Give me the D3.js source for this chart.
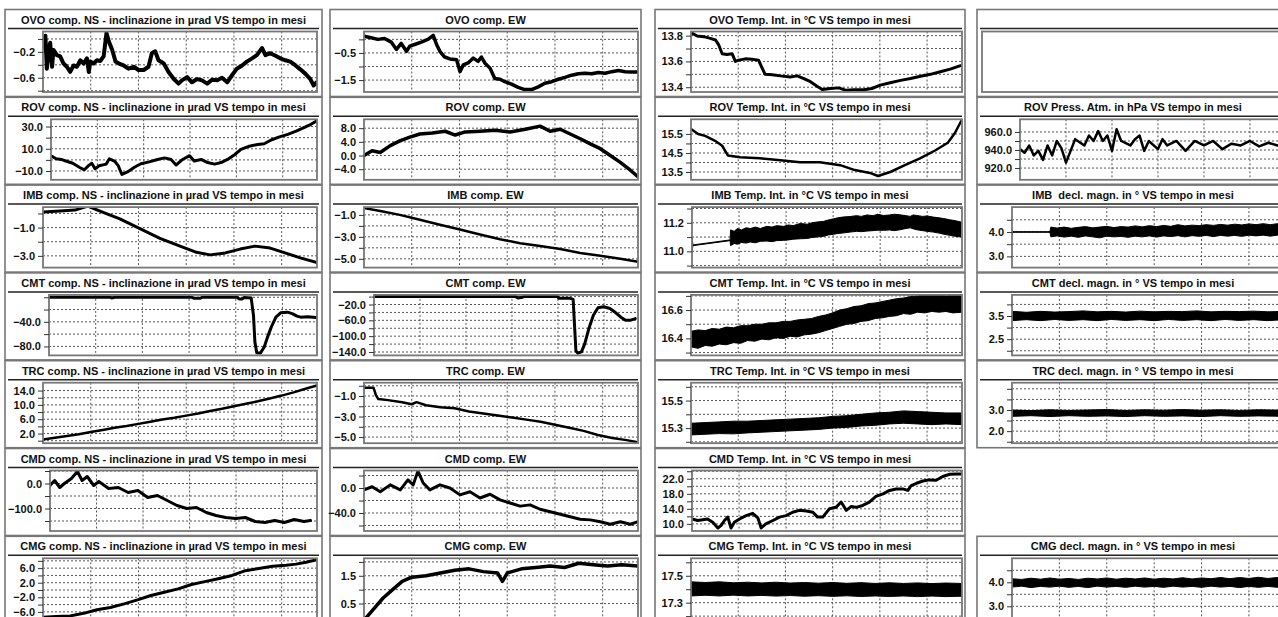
<!DOCTYPE html>
<html><head><meta charset="utf-8">
<script src="https://cdn.jsdelivr.net/npm/d3@7/dist/d3.min.js"></script>
<style>body{margin:0;background:#fff}svg{display:block}</style>
</head><body>
<svg id="c" width="1278" height="617"></svg>
<script>
// ---------- DATA (time in months, value) ----------
const T_END = 5.74;
const monthGrid = [1, 2, 3, 4, 5];

const ovoNS = [[0.01,-0.12],[0.05,0.05],[0.08,-0.46],[0.12,-0.17],[0.15,-0.06],[0.19,-0.43],[0.22,-0.17],[0.29,-0.25],[0.36,-0.27],[0.43,-0.38],[0.5,-0.43],[0.57,-0.51],[0.64,-0.41],[0.71,-0.43],[0.78,-0.33],[0.85,-0.38],[0.92,-0.3],[0.96,-0.51],[0.99,-0.35],[1.06,-0.38],[1.13,-0.33],[1.2,-0.34],[1.27,-0.27],[1.33,0.09],[1.38,-0.04],[1.45,-0.17],[1.52,-0.35],[1.59,-0.38],[1.69,-0.41],[1.79,-0.46],[1.9,-0.43],[2.0,-0.48],[2.11,-0.48],[2.21,-0.43],[2.28,-0.22],[2.35,-0.19],[2.42,-0.33],[2.53,-0.38],[2.63,-0.51],[2.74,-0.62],[2.84,-0.69],[2.91,-0.64],[3.02,-0.59],[3.12,-0.67],[3.23,-0.62],[3.33,-0.64],[3.44,-0.69],[3.54,-0.63],[3.65,-0.64],[3.75,-0.6],[3.86,-0.67],[3.96,-0.56],[4.06,-0.46],[4.17,-0.41],[4.27,-0.35],[4.38,-0.3],[4.48,-0.25],[4.59,-0.14],[4.66,-0.25],[4.76,-0.22],[4.87,-0.26],[4.97,-0.3],[5.08,-0.33],[5.18,-0.35],[5.29,-0.41],[5.39,-0.47],[5.5,-0.54],[5.6,-0.62],[5.67,-0.72],[5.73,-0.67]];
const ovoEW = [[0,0.12],[0.15,0.06],[0.29,0],[0.43,0.03],[0.57,-0.1],[0.68,-0.37],[0.78,-0.15],[0.89,-0.44],[0.96,-0.25],[1.06,-0.19],[1.2,-0.1],[1.34,0],[1.45,0.15],[1.52,-0.19],[1.59,-0.44],[1.69,-0.65],[1.8,-0.72],[1.94,-0.75],[2.01,-1.19],[2.08,-0.94],[2.18,-0.87],[2.29,-0.69],[2.39,-0.81],[2.46,-0.65],[2.53,-0.87],[2.64,-1.06],[2.74,-1.44],[2.85,-1.47],[2.95,-1.56],[3.09,-1.65],[3.23,-1.77],[3.37,-1.85],[3.51,-1.85],[3.65,-1.75],[3.79,-1.62],[3.93,-1.56],[4.07,-1.47],[4.21,-1.4],[4.35,-1.32],[4.49,-1.27],[4.63,-1.25],[4.77,-1.27],[4.91,-1.22],[5.05,-1.25],[5.19,-1.19],[5.33,-1.15],[5.47,-1.19],[5.61,-1.2],[5.72,-1.2]];
const ovoTemp = [[0.02,13.819],[0.13,13.797],[0.27,13.792],[0.41,13.779],[0.52,13.766],[0.59,13.726],[0.66,13.66],[0.76,13.654],[0.87,13.66],[0.94,13.6],[1.01,13.61],[1.15,13.62],[1.29,13.617],[1.43,13.61],[1.5,13.554],[1.57,13.5],[1.72,13.496],[1.89,13.488],[2.1,13.48],[2.25,13.488],[2.39,13.467],[2.53,13.443],[2.67,13.408],[2.78,13.382],[2.95,13.39],[3.13,13.395],[3.27,13.377],[3.45,13.38],[3.66,13.38],[3.83,13.39],[4.01,13.416],[4.22,13.435],[4.44,13.453],[4.65,13.467],[4.86,13.485],[5.07,13.5],[5.28,13.52],[5.49,13.54],[5.71,13.567]];

const rovNS = [[0,3.8],[0.11,1.0],[0.22,0.4],[0.32,-1.0],[0.47,-3.0],[0.61,-6.6],[0.72,-8.9],[0.81,-5.2],[0.88,-3.0],[0.95,-8.0],[1.04,-5.2],[1.19,-3.8],[1.26,1.0],[1.37,-1.0],[1.45,-5.2],[1.53,-13.1],[1.65,-10.8],[1.8,-6.6],[1.94,-3.5],[2.12,-1.8],[2.3,0.4],[2.45,1.8],[2.59,0.4],[2.7,-4.6],[2.84,0.4],[2.99,3.8],[3.09,-1.0],[3.24,0.4],[3.38,-2.4],[3.53,-3.8],[3.67,-2.4],[3.81,0.4],[3.96,4.6],[4.1,9.4],[4.28,12.3],[4.46,13.9],[4.6,14.5],[4.75,17.9],[4.93,20.7],[5.11,23.0],[5.29,25.8],[5.47,29.2],[5.61,32.0],[5.72,34.8]];
const rovEW = [[0,0],[0.17,1.4],[0.34,0.9],[0.55,2.9],[0.75,4.3],[0.96,5.4],[1.17,6.3],[1.43,6.6],[1.7,7.1],[1.91,6.0],[2.12,6.9],[2.43,7.1],[2.75,7.4],[3.06,6.9],[3.38,7.7],[3.69,8.6],[3.9,7.1],[4.11,7.7],[4.32,6.3],[4.53,4.9],[4.74,3.4],[4.95,2.0],[5.16,0],[5.37,-2.0],[5.58,-4.3],[5.72,-6.0]];
const rovTemp = [[0,15.76],[0.15,15.5],[0.3,15.4],[0.51,15.14],[0.66,14.88],[0.78,14.37],[1.04,14.27],[1.46,14.22],[1.89,14.12],[2.31,14.01],[2.73,14.01],[3.16,13.86],[3.47,13.6],[3.79,13.45],[3.96,13.29],[4.22,13.5],[4.53,13.86],[4.85,14.22],[5.17,14.63],[5.44,15.04],[5.59,15.55],[5.72,16.17]];
const rovPress = [[0,941],[0.1,937],[0.2,945],[0.3,934],[0.4,939],[0.5,929],[0.6,945],[0.7,934],[0.8,950],[0.9,942],[1.0,926],[1.1,939],[1.2,952],[1.4,945],[1.5,956],[1.6,950],[1.7,961],[1.8,950],[1.9,956],[2.0,939],[2.1,963],[2.2,950],[2.4,945],[2.5,952],[2.6,956],[2.7,939],[2.8,950],[3.0,941],[3.1,952],[3.2,945],[3.4,950],[3.6,939],[3.8,950],[4.0,945],[4.2,950],[4.4,941],[4.6,947],[4.8,945],[5.0,950],[5.2,944],[5.4,948],[5.6,945]];

const imbNS = [[0,0.1],[0.36,0.17],[0.67,0.24],[0.94,0.52],[1.09,0.31],[1.3,0.03],[1.61,-0.38],[2.03,-1.07],[2.45,-1.76],[2.87,-2.31],[3.19,-2.72],[3.5,-2.93],[3.82,-2.79],[4.13,-2.52],[4.44,-2.31],[4.76,-2.45],[5.07,-2.79],[5.39,-3.14],[5.74,-3.48]];
const imbEW = [[0,-0.38],[0.34,-0.64],[0.75,-1.0],[1.17,-1.44],[1.59,-1.89],[2.01,-2.33],[2.43,-2.78],[2.85,-3.22],[3.27,-3.58],[3.69,-3.84],[4.11,-4.11],[4.53,-4.47],[4.95,-4.73],[5.37,-5.0],[5.74,-5.27]];
const imbTemp = [[0,11.0,11.1],[0.02,11.04,11.045],[0.81,11.075,11.08],[0.82,11.04,11.15],[0.9,11.055,11.14],[0.96,11.05,11.16],[1.05,11.062,11.15],[1.15,11.058,11.165],[1.24,11.065,11.16],[1.35,11.06,11.17],[1.45,11.07,11.16],[1.59,11.072,11.175],[1.7,11.068,11.17],[1.8,11.075,11.18],[1.95,11.077,11.175],[2.05,11.08,11.185],[2.15,11.085,11.18],[2.3,11.088,11.195],[2.45,11.09,11.19],[2.55,11.097,11.2],[2.65,11.1,11.205],[2.8,11.105,11.21],[2.9,11.115,11.22],[3.01,11.119,11.228],[3.1,11.125,11.235],[3.2,11.128,11.24],[3.36,11.135,11.244],[3.5,11.14,11.25],[3.6,11.138,11.245],[3.72,11.142,11.255],[3.85,11.145,11.25],[3.95,11.148,11.26],[4.07,11.147,11.251],[4.2,11.15,11.255],[4.3,11.145,11.26],[4.42,11.151,11.256],[4.55,11.16,11.25],[4.64,11.165,11.245],[4.7,11.158,11.255],[4.78,11.151,11.251],[4.9,11.145,11.245],[5.0,11.14,11.248],[5.13,11.135,11.24],[5.25,11.128,11.235],[5.35,11.12,11.23],[5.48,11.112,11.221],[5.6,11.105,11.215],[5.72,11.1,11.205]];
const imbDecl = [[0,3.88,4.1],[0.02,3.99,4.01],[0.8,3.99,4.01],[0.82,3.8,4.2],[0.95,3.84,4.16],[1.1,3.79,4.2],[1.25,3.83,4.15],[1.4,3.78,4.19],[1.55,3.84,4.22],[1.7,3.8,4.17],[1.85,3.76,4.2],[2.0,3.83,4.23],[2.15,3.8,4.18],[2.3,3.82,4.22],[2.45,3.78,4.2],[2.6,3.83,4.25],[2.75,3.8,4.21],[2.9,3.84,4.26],[3.05,3.79,4.22],[3.2,3.84,4.27],[3.35,3.81,4.23],[3.5,3.85,4.3],[3.65,3.8,4.25],[3.8,3.85,4.28],[3.95,3.82,4.26],[4.1,3.86,4.3],[4.25,3.81,4.27],[4.4,3.86,4.31],[4.55,3.83,4.28],[4.7,3.86,4.32],[4.85,3.82,4.29],[5.0,3.87,4.33],[5.15,3.84,4.3],[5.3,3.87,4.34],[5.45,3.83,4.3],[5.6,3.87,4.34],[5.74,3.85,4.32]];

const cmtNS = [[0,0],[1.31,0],[1.34,-1.1],[1.41,0],[3.06,0],[3.1,-1.6],[3.24,-1.6],[3.28,0],[4.03,0],[4.07,-2.7],[4.14,-2.7],[4.18,-0.5],[4.33,-1.1],[4.38,-29.7],[4.41,-73],[4.45,-90.3],[4.53,-90.8],[4.61,-81],[4.68,-64.9],[4.76,-48.6],[4.86,-32.4],[4.96,-25.4],[5.11,-24.3],[5.22,-27],[5.31,-30.8],[5.39,-32.4],[5.54,-31.9],[5.72,-33]];
const cmtEW = [[0,0],[3.08,0],[3.13,-3.4],[3.23,-1.7],[3.26,0],[3.99,0],[4.02,-4.3],[4.27,-4.3],[4.33,-6.9],[4.36,-72.8],[4.39,-137],[4.43,-143],[4.51,-139.8],[4.58,-120],[4.67,-81.4],[4.77,-47.1],[4.87,-28.3],[5.0,-25.7],[5.13,-30],[5.25,-40.3],[5.36,-51.4],[5.47,-60],[5.57,-60],[5.68,-55.7]];
const cmtTemp = [[0,16.34,16.45],[0.15,16.33,16.46],[0.3,16.35,16.455],[0.45,16.345,16.47],[0.6,16.36,16.465],[0.75,16.355,16.48],[0.9,16.37,16.475],[1.05,16.365,16.49],[1.2,16.385,16.49],[1.35,16.38,16.5],[1.5,16.395,16.5],[1.65,16.39,16.51],[1.8,16.405,16.51],[1.95,16.4,16.52],[2.1,16.415,16.52],[2.25,16.41,16.53],[2.4,16.425,16.535],[2.55,16.43,16.54],[2.7,16.44,16.555],[2.85,16.455,16.565],[3.0,16.47,16.58],[3.15,16.485,16.6],[3.3,16.5,16.61],[3.45,16.505,16.625],[3.6,16.52,16.63],[3.75,16.525,16.645],[3.9,16.54,16.65],[4.05,16.545,16.66],[4.2,16.555,16.67],[4.35,16.56,16.68],[4.5,16.575,16.685],[4.65,16.57,16.695],[4.8,16.585,16.7],[4.95,16.58,16.71],[5.1,16.59,16.705],[5.25,16.585,16.71],[5.4,16.59,16.7],[5.55,16.58,16.705],[5.74,16.585,16.7]];
const cmtDecl = [[0,3.3,3.7],[0.3,3.34,3.66],[0.6,3.3,3.7],[0.9,3.35,3.67],[1.2,3.31,3.69],[1.5,3.34,3.72],[1.8,3.3,3.68],[2.1,3.35,3.7],[2.4,3.31,3.67],[2.7,3.34,3.71],[3.0,3.3,3.68],[3.3,3.35,3.7],[3.6,3.31,3.69],[3.9,3.34,3.72],[4.2,3.3,3.68],[4.5,3.35,3.7],[4.8,3.31,3.69],[5.1,3.34,3.71],[5.4,3.3,3.68],[5.74,3.34,3.7]];

const trcNS = [[0,0.3],[0.25,0.8],[0.5,1.3],[0.75,1.8],[1,2.4],[1.25,3.0],[1.5,3.6],[1.75,4.1],[2,4.7],[2.25,5.3],[2.5,5.9],[2.75,6.4],[3,7.0],[3.25,7.6],[3.5,8.3],[3.75,8.9],[4,9.6],[4.25,10.3],[4.5,11.0],[4.75,11.8],[5,12.6],[5.25,13.5],[5.5,14.5],[5.74,15.4]];
const trcEW = [[0,-0.2],[0.2,-0.2],[0.25,-0.9],[0.3,-1.3],[0.5,-1.4],[0.8,-1.6],[1.0,-1.8],[1.1,-1.6],[1.3,-1.9],[1.6,-2.1],[1.9,-2.2],[2.2,-2.5],[2.5,-2.7],[2.8,-2.9],[3.1,-3.1],[3.4,-3.3],[3.7,-3.5],[4.0,-3.8],[4.3,-4.1],[4.6,-4.4],[4.9,-4.8],[5.2,-5.1],[5.5,-5.3],[5.74,-5.5]];
const trcTemp = [[0,15.25,15.335],[0.3,15.255,15.34],[0.6,15.26,15.345],[0.9,15.258,15.35],[1.2,15.265,15.35],[1.5,15.27,15.355],[1.8,15.275,15.36],[2.1,15.28,15.365],[2.4,15.285,15.37],[2.7,15.29,15.375],[3.0,15.3,15.385],[3.3,15.305,15.39],[3.6,15.315,15.4],[3.9,15.32,15.41],[4.2,15.33,15.415],[4.5,15.335,15.425],[4.8,15.33,15.42],[5.1,15.325,15.415],[5.4,15.33,15.41],[5.74,15.325,15.41]];
const trcDecl = [[0,2.7,3.0],[0.4,2.73,2.97],[0.8,2.69,3.01],[1.2,2.73,2.98],[1.6,2.7,3.0],[2.0,2.72,3.02],[2.4,2.69,2.98],[2.8,2.73,3.01],[3.2,2.7,2.99],[3.6,2.72,3.02],[4.0,2.69,2.99],[4.4,2.73,3.01],[4.8,2.7,2.98],[5.2,2.72,3.01],[5.74,2.7,2.99]];

const cmdNS = [[0,-8],[0.1,12],[0.21,-16],[0.31,0],[0.46,20],[0.59,48],[0.69,12],[0.8,28],[0.94,-8],[1.05,8],[1.26,-20],[1.47,-16],[1.68,-36],[1.89,-28],[2.1,-56],[2.31,-48],[2.52,-68],[2.73,-88],[2.94,-100],[3.15,-96],[3.36,-116],[3.57,-128],[3.78,-136],[3.99,-140],[4.2,-136],[4.41,-152],[4.62,-156],[4.83,-148],[5.04,-156],[5.25,-144],[5.46,-152],[5.6,-148]];
const cmdEW = [[0,-3],[0.17,2],[0.34,-6],[0.55,5],[0.76,-3],[0.92,13],[1.03,5],[1.13,27],[1.24,8],[1.38,-3],[1.59,5],[1.8,0],[2.01,-11],[2.22,-6],[2.43,-16],[2.64,-10],[2.85,-19],[3.06,-24],[3.27,-29],[3.48,-27],[3.69,-34],[3.9,-38],[4.11,-42],[4.32,-46],[4.53,-50],[4.74,-51],[4.95,-54],[5.16,-58],[5.37,-54],[5.58,-58],[5.74,-54]];
const cmdTemp = [[0,11.3],[0.12,10.9],[0.23,11.1],[0.33,11.3],[0.44,10.4],[0.55,8.9],[0.62,9.6],[0.69,10.9],[0.76,11.8],[0.83,8.9],[0.9,10.4],[1.01,11.3],[1.15,12.2],[1.29,12.8],[1.4,11.6],[1.47,8.9],[1.57,10.0],[1.72,10.9],[1.86,11.8],[2.0,12.2],[2.14,13.1],[2.28,13.6],[2.43,13.4],[2.57,13.1],[2.67,11.8],[2.78,11.8],[2.92,14.0],[3.06,14.4],[3.17,15.8],[3.28,13.6],[3.38,14.6],[3.49,14.4],[3.63,14.9],[3.77,15.8],[3.91,17.3],[4.06,18.0],[4.2,18.9],[4.34,19.3],[4.48,19.3],[4.59,18.9],[4.66,20.2],[4.77,20.8],[4.91,21.4],[5.05,21.7],[5.19,21.6],[5.33,22.6],[5.48,23.2],[5.62,23.3],[5.72,23.3]];

const cmgNS = [[0,-7.5],[0.28,-7.3],[0.57,-7.1],[0.85,-6.4],[1.13,-5.4],[1.41,-4.8],[1.7,-3.8],[1.98,-2.7],[2.26,-1.5],[2.54,-0.6],[2.83,0.3],[3.11,1.5],[3.39,2.3],[3.67,3.1],[3.96,4.0],[4.24,5.3],[4.52,5.9],[4.81,6.5],[5.09,6.8],[5.3,7.1],[5.51,7.6],[5.74,8.3]];
const cmgEW = [[0,-0.1],[0.2,0.3],[0.4,0.7],[0.6,1.0],[0.8,1.3],[1.0,1.45],[1.3,1.5],[1.6,1.6],[1.9,1.7],[2.2,1.75],[2.5,1.65],[2.8,1.6],[2.9,1.3],[3.0,1.6],[3.3,1.75],[3.6,1.8],[3.9,1.85],[4.2,1.8],[4.5,1.95],[4.8,1.9],[5.1,1.85],[5.4,1.9],[5.74,1.85]];
const cmgTemp = [[0,17.35,17.455],[0.3,17.355,17.45],[0.6,17.35,17.455],[0.9,17.356,17.448],[1.2,17.35,17.452],[1.5,17.354,17.447],[1.8,17.349,17.452],[2.1,17.353,17.446],[2.4,17.348,17.45],[2.7,17.352,17.445],[3.0,17.347,17.45],[3.3,17.351,17.444],[3.6,17.346,17.449],[3.9,17.35,17.443],[4.2,17.346,17.448],[4.5,17.35,17.443],[4.8,17.345,17.447],[5.1,17.349,17.442],[5.4,17.345,17.446],[5.74,17.348,17.443]];
const cmgDecl = [[0,3.8,4.15],[0.2,3.84,4.12],[0.4,3.78,4.17],[0.6,3.83,4.13],[0.8,3.8,4.18],[1.0,3.84,4.13],[1.2,3.79,4.16],[1.4,3.83,4.12],[1.6,3.78,4.17],[1.8,3.84,4.14],[2.0,3.8,4.18],[2.2,3.83,4.13],[2.4,3.79,4.17],[2.6,3.84,4.14],[2.8,3.8,4.18],[3.0,3.83,4.13],[3.2,3.79,4.17],[3.4,3.84,4.14],[3.6,3.8,4.19],[3.8,3.83,4.14],[4.0,3.79,4.18],[4.2,3.84,4.15],[4.4,3.8,4.2],[4.6,3.83,4.15],[4.8,3.78,4.2],[5.0,3.83,4.16],[5.2,3.79,4.21],[5.4,3.83,4.16],[5.6,3.79,4.2],[5.74,3.82,4.17]];

// ---------- PANELS ----------
const NS = ' comp. NS - inclinazione in µrad VS tempo in mesi';
const EW = ' comp. EW';
const TI = ' Temp. Int. in °C VS tempo in mesi';
const DM = ' decl. magn. in ° VS tempo in mesi';
const panels = [
 {col:0,row:0,title:'OVO'+NS,line:ovoNS,dom:[-0.82,0.115],grid:[0,-0.2,-0.4,-0.6,-0.8],labels:[-0.2,-0.6],pl:43,sw:4},
 {col:1,row:0,title:'OVO'+EW,line:ovoEW,dom:[-1.94,0.29],grid:[0,-0.5,-1,-1.5],labels:[-0.5,-1.5],pl:364,sw:3.5},
 {col:2,row:0,title:'OVO'+TI,line:ovoTemp,dom:[13.363,13.832],grid:[13.8,13.7,13.6,13.5,13.4],labels:[13.8,13.6,13.4],pl:691,sw:3},
 {col:3,row:0,title:'',empty:true,pl:982},
 {col:0,row:1,title:'ROV'+NS,line:rovNS,dom:[-17.9,36.5],grid:[30,20,10,0,-10],labels:[30,10,-10],pl:51,sw:3},
 {col:1,row:1,title:'ROV'+EW,line:rovEW,dom:[-7.1,10.6],grid:[8,4,0,-4],labels:[8,4,0,-4],pl:364,sw:3.5},
 {col:2,row:1,title:'ROV'+TI,line:rovTemp,dom:[13.09,16.27],grid:[15.5,15,14.5,14,13.5],labels:[15.5,14.5,13.5],pl:691,sw:2.5},
 {col:3,row:1,title:'ROV Press. Atm. in hPa VS tempo in mesi',line:rovPress,dom:[907,974],grid:[960,950,940,930,920],labels:[960,940,920],pl:1020,sw:2.5},
 {col:0,row:2,title:'IMB'+NS,line:imbNS,dom:[-3.83,0.45],grid:[0,-1,-2,-3],labels:[-1,-3],pl:43,sw:3},
 {col:1,row:2,title:'IMB'+EW,line:imbEW,dom:[-5.8,-0.29],grid:[-1,-2,-3,-4,-5],labels:[-1,-3,-5],pl:364,sw:2.5},
 {col:2,row:2,title:'IMB'+TI,band:imbTemp,dom:[10.886,11.31],grid:[11.3,11.2,11.1,11.0,10.9],labels:[11.2,11.0],pl:692},
 {col:3,row:2,title:'IMB  decl. magn. in ° VS tempo in mesi',band:imbDecl,dom:[2.54,5.02],grid:[4.5,4,3.5,3],labels:[4,3],pl:1012},
 {col:0,row:3,title:'CMT'+NS,line:cmtNS,dom:[-94.6,3.8],grid:[0,-20,-40,-60,-80],labels:[-40,-80],pl:49,sw:3},
 {col:1,row:3,title:'CMT'+EW,line:cmtEW,dom:[-148.6,4.3],grid:[0,-20,-40,-60,-80,-100,-120,-140],labels:[-20,-60,-100,-140],pl:374,sw:3},
 {col:2,row:3,title:'CMT'+TI,band:cmtTemp,dom:[16.28,16.707],grid:[16.7,16.6,16.5,16.4,16.3],labels:[16.6,16.4],pl:691},
 {col:3,row:3,title:'CMT'+DM,band:cmtDecl,dom:[1.8,4.41],grid:[4,3.5,3,2.5,2],labels:[3.5,2.5],pl:1012},
 {col:0,row:4,title:'TRC'+NS,line:trcNS,dom:[-0.7,16.2],grid:[14,12,10,8,6,4,2,0],labels:[14,10,6,2],pl:43,sw:2.5},
 {col:1,row:4,title:'TRC'+EW,line:trcEW,dom:[-5.6,0.3],grid:[0,-1,-2,-3,-4,-5],labels:[-1,-3,-5],pl:364,sw:2.5},
 {col:2,row:4,title:'TRC'+TI,band:trcTemp,dom:[15.19,15.63],grid:[15.6,15.5,15.4,15.3,15.2],labels:[15.5,15.3],pl:691},
 {col:3,row:4,title:'TRC'+DM,band:trcDecl,dom:[1.43,4.29],grid:[4,3.5,3,2.5,2,1.5],labels:[3,2],pl:1012},
 {col:0,row:5,title:'CMD'+NS,line:cmdNS,dom:[-190,52],grid:[50,0,-50,-100,-150],labels:[0,-100],pl:50,sw:3},
 {col:1,row:5,title:'CMD'+EW,line:cmdEW,dom:[-68.8,28],grid:[20,0,-20,-40,-60],labels:[0,-40],pl:364,sw:3},
 {col:2,row:5,title:'CMD'+TI,line:cmdTemp,dom:[8.1,24.2],grid:[24,22,20,18,16,14,12,10],labels:[22,18,14,10],pl:692,sw:3},
 {col:0,row:6,title:'CMG'+NS,line:cmgNS,dom:[-7.9,8.7],grid:[8,6,4,2,0,-2,-4,-6],labels:[6,2,-2,-6],pl:43,sw:3},
 {col:1,row:6,title:'CMG'+EW,line:cmgEW,dom:[-0.05,2.13],grid:[2,1.5,1,0.5],labels:[1.5,0.5],pl:364,sw:3.5},
 {col:2,row:6,title:'CMG'+TI,band:cmgTemp,dom:[17.18,17.63],grid:[17.6,17.5,17.4,17.3,17.2],labels:[17.5,17.3],pl:691},
 {col:3,row:6,title:'CMG'+DM,band:cmgDecl,dom:[2.48,5.0],grid:[4.5,4,3.5,3],labels:[4,3],pl:1012}
];

// ---------- LAYOUT ----------
const cols = [{L:5,R:322,pR:317},{L:330,R:641,pR:638},{L:655,R:965,pR:962},{L:977,R:1289,pR:1284}];
const sepY = r => 28.5 + r*87.8;
const FONT = 'Arial, "Liberation Sans", sans-serif';
const svg = d3.select('#c');
const fmt = d3.format('.1f');

panels.forEach((p, i) => {
  const c = cols[p.col], s = sepY(p.row);
  const g = svg.append('g');
  g.append('rect').attr('x', c.L).attr('y', s - 19).attr('width', c.R - c.L).attr('height', 87)
    .attr('fill', '#fff').attr('stroke', '#777').attr('stroke-width', 1.6);
  g.append('line').attr('x1', c.L + 3).attr('x2', c.R - 3).attr('y1', s).attr('y2', s)
    .attr('stroke', '#222').attr('stroke-width', 1.5);
  g.append('text').attr('x', (c.L + c.R) / 2).attr('y', s - 5).attr('text-anchor', 'middle')
    .attr('font-family', FONT).attr('font-size', 11).attr('font-weight', 'bold').attr('fill', '#111')
    .style('white-space', 'pre').text(p.title);

  const top = s + 3, bot = s + 63.5;
  const x = d3.scaleLinear().domain([0, T_END]).range([p.pl, c.pR]);
  if (p.empty) {
    g.append('rect').attr('x', p.pl).attr('y', top).attr('width', c.pR - p.pl).attr('height', bot - top)
      .attr('fill', 'none').attr('stroke', '#777').attr('stroke-width', 1.8);
    return;
  }
  const y = d3.scaleLinear().domain(p.dom).range([bot, top]);
  const cid = 'clip' + i;
  g.append('clipPath').attr('id', cid).append('rect')
    .attr('x', p.pl).attr('y', top).attr('width', c.pR - p.pl).attr('height', bot - top);

  const grid = g.append('g').attr('stroke', '#555').attr('stroke-width', 1).attr('stroke-dasharray', '2,2');
  grid.selectAll('line.h').data(p.grid).join('line').attr('class', 'h')
    .attr('x1', p.pl).attr('x2', c.pR).attr('y1', d => y(d)).attr('y2', d => y(d));
  grid.selectAll('line.v').data(monthGrid).join('line').attr('class', 'v')
    .attr('x1', d => x(d)).attr('x2', d => x(d)).attr('y1', top).attr('y2', bot);

  const dg = g.append('g').attr('clip-path', `url(#${cid})`);
  if (p.line) {
    dg.append('path').datum(p.line)
      .attr('d', d3.line().x(d => x(d[0])).y(d => y(d[1])))
      .attr('fill', 'none').attr('stroke', '#000').attr('stroke-width', p.sw)
      .attr('stroke-linejoin', 'round').attr('stroke-linecap', 'round');
  }
  if (p.band) {
    dg.append('path').datum(p.band)
      .attr('d', d3.area().x(d => x(d[0])).y0(d => y(d[1])).y1(d => y(d[2])))
      .attr('fill', '#000').attr('stroke', '#000').attr('stroke-width', 1);
  }

  g.append('rect').attr('x', p.pl).attr('y', top).attr('width', c.pR - p.pl).attr('height', bot - top)
    .attr('fill', 'none').attr('stroke', '#777').attr('stroke-width', 1.8);

  const ax = g.append('g').attr('transform', `translate(${p.pl},0)`)
    .call(d3.axisLeft(y).tickValues(p.grid).tickSize(5).tickPadding(3)
      .tickFormat(v => p.labels.includes(v) ? fmt(v) : ''));
  ax.select('.domain').remove();
  ax.selectAll('.tick line').attr('stroke', '#333');
  ax.selectAll('.tick text').attr('font-family', FONT).attr('font-size', 11).attr('font-weight', 'bold').attr('fill', '#111');
});
</script>
</body></html>
